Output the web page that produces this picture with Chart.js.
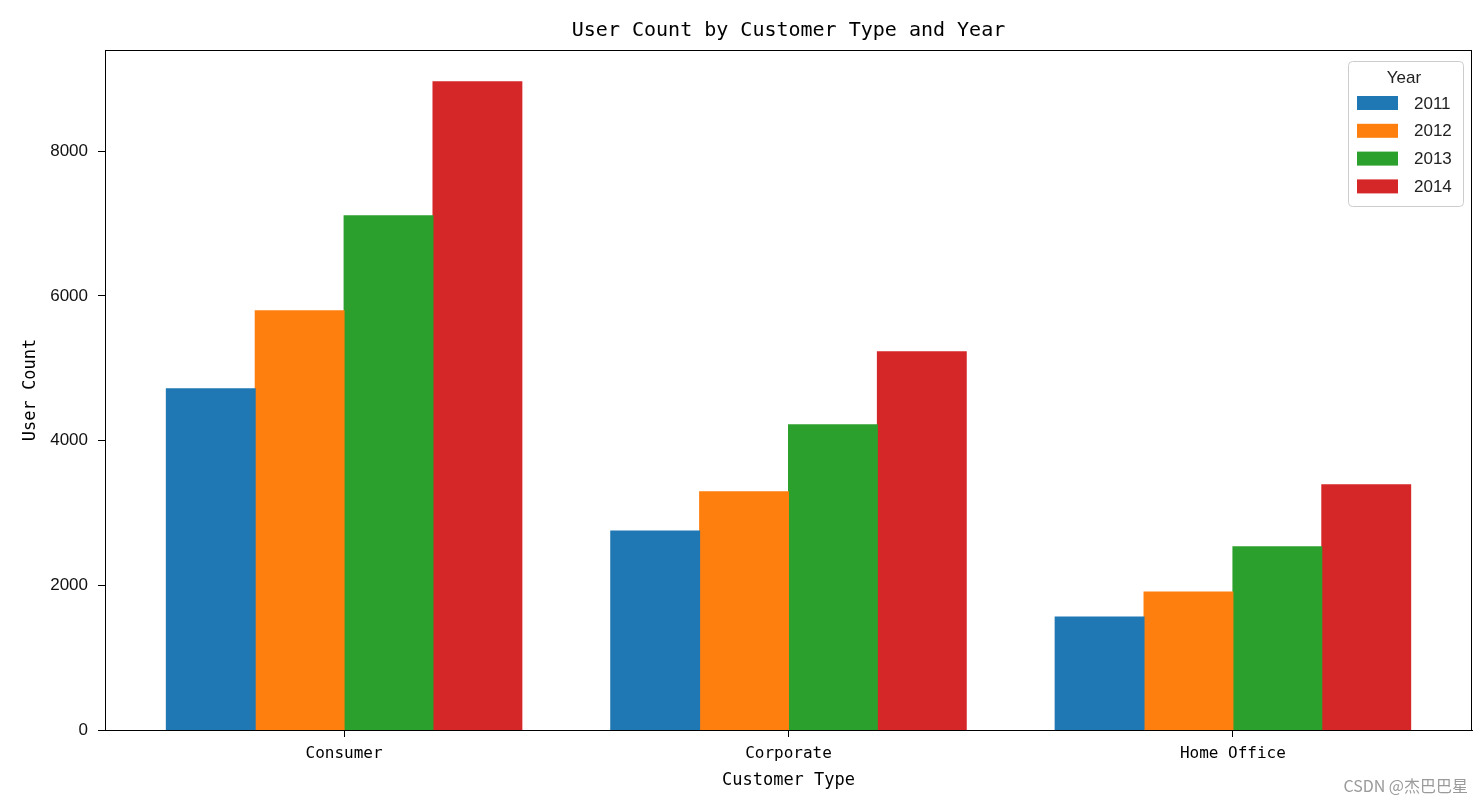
<!DOCTYPE html>
<html>
<head>
<meta charset="utf-8">
<title>User Count by Customer Type and Year</title>
<script src="https://cdn.jsdelivr.net/npm/chart.js@4.4.1/dist/chart.umd.min.js"></script>
<style>
  html, body { margin: 0; padding: 0; background: #fff; }
  #wrap { width: 1484px; height: 804px; }
</style>
</head>
<body>
<div id="wrap"><canvas id="userChart" width="1484" height="804"></canvas></div>
<script>
const customerTypes = ['Consumer', 'Corporate', 'Home Office'];
const years = ['2011', '2012', '2013', '2014'];
const count2011 = [4717, 2750, 1562];
const count2012 = [5796, 3292, 1909];
const count2013 = [7110, 4219, 2532];
const count2014 = [8960, 5229, 3389];
const yTicks = [0, 2000, 4000, 6000, 8000];

const seriesValues = [count2011, count2012, count2013, count2014];
const colors = ['#1f77b4', '#ff7f0e', '#2ca02c', '#d62728'];

const monoFont = '"DejaVu Sans Mono", "Liberation Mono", monospace';
const sansFont = '"Liberation Sans", Arial, sans-serif';

// title over the plot, box round the plot, legend with title, watermark
const extrasPlugin = {
  id: 'extras',
  afterDraw(chart) {
    const ctx = chart.ctx;
    const area = chart.chartArea;
    ctx.save();
    ctx.strokeStyle = '#000';
    ctx.lineWidth = 1;
    ctx.strokeRect(area.left + 0.5, area.top + 0.5, area.right - area.left - 1, area.bottom - area.top);

    ctx.fillStyle = '#000';
    ctx.font = '20px ' + monoFont;
    ctx.textAlign = 'center';
    ctx.textBaseline = 'middle';
    ctx.fillText('User Count by Customer Type and Year', (area.left + area.right) / 2, 31);

    // legend
    const lx = area.right - 124, ly = area.top + 11, lw = 115, lh = 145;
    ctx.fillStyle = 'rgba(255,255,255,0.8)';
    ctx.strokeStyle = '#cccccc';
    ctx.beginPath();
    ctx.roundRect(lx + 0.5, ly + 0.5, lw, lh, 4);
    ctx.fill();
    ctx.stroke();

    ctx.fillStyle = '#222';
    ctx.font = '17px ' + sansFont;
    ctx.fillText('Year', lx + 56, ly + 17);

    ctx.textAlign = 'left';
    chart.data.datasets.forEach((ds, i) => {
      const cy = ly + 42 + i * 27.8;
      ctx.fillStyle = ds.backgroundColor;
      ctx.fillRect(lx + 9, cy - 7, 41, 14);
      ctx.fillStyle = '#222';
      ctx.fillText(ds.label, lx + 66, cy + 1);
    });

    // watermark
    ctx.fillStyle = '#9a9a9a';
    ctx.font = '16px "Noto Sans CJK SC", sans-serif';
    ctx.textAlign = 'right';
    ctx.fillText('CSDN @杰巴巴星', 1468, 786);
    ctx.restore();
  }
};

const datasets = years.map((year, i) => ({
  label: year,
  data: seriesValues[i].map((v, j) => ({ x: j, y: v })),
  backgroundColor: colors[i],
  borderWidth: 0,
  inflateAmount: 0.5,
  categoryPercentage: 0.8,
  barPercentage: 1.0
}));

new Chart(document.getElementById('userChart'), {
  type: 'bar',
  data: { datasets: datasets },
  plugins: [extrasPlugin],
  options: {
    responsive: false,
    animation: false,
    layout: { padding: { left: 0, right: 12, top: 50, bottom: 0 } },
    plugins: {
      legend: { display: false },
      tooltip: { enabled: false },
      title: { display: false }
    },
    scales: {
      x: {
        type: 'linear',
        min: -0.538,
        max: 2.538,
        offset: false,
        afterBuildTicks: (scale) => {
          scale.ticks = customerTypes.map((_, i) => ({ value: i }));
        },
        afterFit: (scale) => { scale.height = 74; },
        ticks: {
          color: '#000',
          padding: 7,
          maxRotation: 0,
          font: { family: monoFont, size: 16 },
          callback: (v) => customerTypes[v]
        },
        grid: {
          offset: false,
          drawOnChartArea: false,
          drawTicks: true,
          tickLength: 7,
          color: '#000'
        },
        border: { display: true, color: '#000', width: 1 },
        title: {
          display: true,
          text: 'Customer Type',
          color: '#000',
          font: { family: monoFont, size: 17 },
          padding: { top: 0, bottom: 13 }
        }
      },
      y: {
        min: 0,
        max: 9400,
        afterBuildTicks: (scale) => {
          scale.ticks = yTicks.map(v => ({ value: v }));
        },
        afterFit: (scale) => { scale.width = 105; },
        ticks: {
          color: '#111',
          padding: 10,
          font: { family: sansFont, size: 17 },
          callback: (v) => String(v)
        },
        grid: {
          drawOnChartArea: false,
          drawTicks: true,
          tickLength: 7,
          color: '#000'
        },
        border: { display: true, color: '#000', width: 1 },
        title: {
          display: true,
          text: 'User Count',
          color: '#000',
          font: { family: monoFont, size: 17 },
          padding: { top: 20, bottom: 0 }
        }
      }
    }
  }
});
</script>
</body>
</html>
